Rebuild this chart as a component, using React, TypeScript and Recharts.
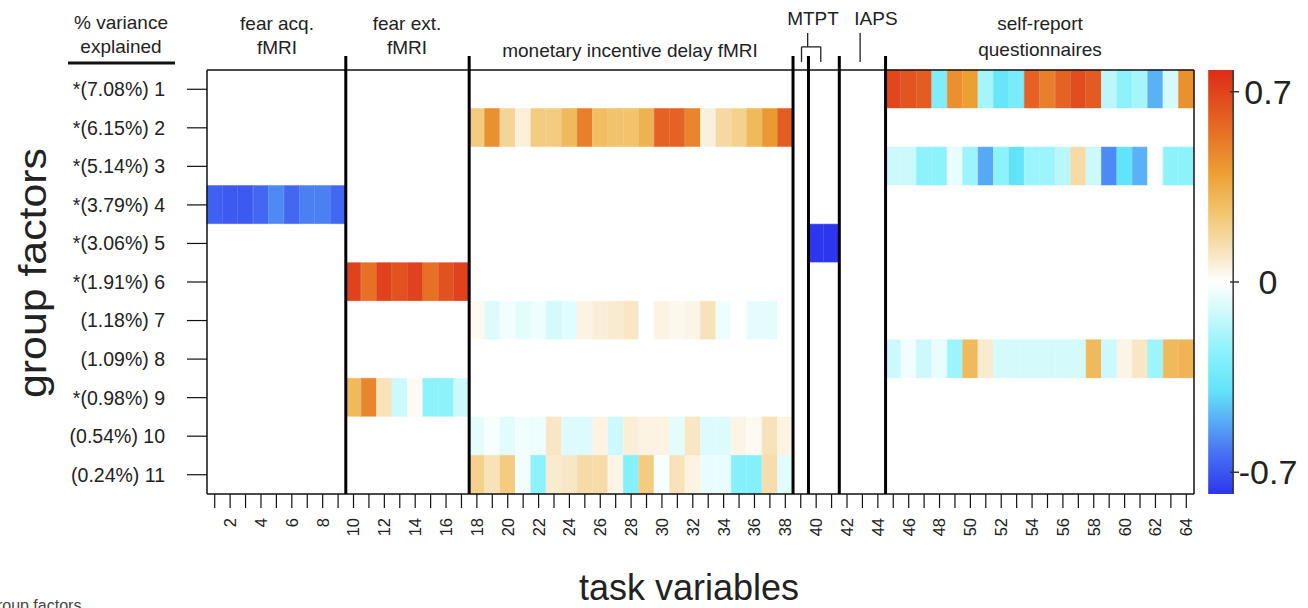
import React from 'react'
import { ComposedChart, Bar, Line, Cell, XAxis, YAxis, ReferenceLine, ReferenceArea } from 'recharts'

// task variables 1..64 and the 11 group factors
const taskVariables = [
  1, 2, 3, 4, 5, 6, 7, 8, 9, 10, 11, 12, 13, 14, 15, 16, 17, 18, 19, 20, 21, 22,
  23, 24, 25, 26, 27, 28, 29, 30, 31, 32, 33, 34, 35, 36, 37, 38, 39, 40, 41, 42,
  43, 44, 45, 46, 47, 48, 49, 50, 51, 52, 53, 54, 55, 56, 57, 58, 59, 60, 61, 62, 63, 64,
]
const factorLabels = [
  '*(7.08%) 1', '*(6.15%) 2', '*(5.14%) 3', '*(3.79%) 4', '*(3.06%) 5', '*(1.91%) 6',
  '(1.18%) 7', '(1.09%) 8', '*(0.98%) 9', '(0.54%) 10', '(0.24%) 11',
]
const factorTicks = [0.5, 1.5, 2.5, 3.5, 4.5, 5.5, 6.5, 7.5, 8.5, 9.5, 10.5]

// first column of each task block
const blockStart = { fearAcq: 1, fearExt: 10, mid: 18, mtpt: 39, iaps: 42, selfReport: 45 }

// loadings, read per factor for the block where they are non zero
const factor1SelfReport = [0.7, 0.65, 0.62, -0.3, 0.45, 0.4, -0.2, -0.38, -0.32, 0.6, 0.5, 0.6, 0.68, 0.63, -0.15, -0.25, -0.2, -0.5, -0.1, 0.45]
const factor2Mid = [0.22, 0.45, 0.18, 0.06, 0.22, 0.22, 0.3, 0.5, 0.28, 0.26, 0.26, 0.33, 0.6, 0.6, 0.48, 0.06, 0.16, 0.2, 0.3, 0.42, 0.62]
const factor3SelfReport = [-0.12, -0.12, -0.25, -0.25, -0.05, -0.22, -0.52, -0.25, -0.4, -0.22, -0.22, -0.16, 0.15, -0.12, -0.58, -0.4, -0.5, 0, -0.25, -0.25]
const factor4FearAcq = [-0.68, -0.7, -0.7, -0.66, -0.58, -0.66, -0.6, -0.6, -0.66]
const factor5Mtpt = [0, -0.8, -0.8]
const factor6FearExt = [0.72, 0.55, 0.72, 0.66, 0.72, 0.55, 0.66, 0.72]
const factor7Mid = [0.02, -0.08, -0.03, -0.06, -0.04, -0.1, -0.07, 0.05, 0.07, 0.08, 0.1, 0, 0.05, 0.03, 0.04, 0.12, -0.04, 0, -0.06, -0.06, 0]
const factor8SelfReport = [-0.12, -0.03, -0.12, -0.05, -0.22, 0.3, 0.08, -0.1, -0.1, -0.1, -0.1, -0.1, -0.1, 0.3, -0.12, 0.04, 0.1, -0.22, 0.3, 0.32]
const factor9FearExt = [0.3, 0.48, 0.12, -0.12, 0.02, -0.25, -0.25, -0.12]
const factor10Mid = [-0.06, -0.02, -0.07, -0.03, -0.04, 0.1, -0.08, -0.08, 0.05, -0.12, 0.07, 0.05, 0.05, -0.06, 0.1, -0.08, -0.08, 0.04, 0.02, 0.12, 0.05]
const factor11Mid = [0.2, 0.12, 0.22, -0.03, -0.25, 0.08, 0.1, 0.15, 0.15, 0.04, -0.28, 0.22, -0.02, 0.12, 0.05, -0.05, -0.05, -0.28, -0.28, 0.14, -0.07]

const factorBlocks: [number, number[]][] = [
  [blockStart.selfReport, factor1SelfReport],
  [blockStart.mid, factor2Mid],
  [blockStart.selfReport, factor3SelfReport],
  [blockStart.fearAcq, factor4FearAcq],
  [blockStart.mtpt, factor5Mtpt],
  [blockStart.fearExt, factor6FearExt],
  [blockStart.mid, factor7Mid],
  [blockStart.selfReport, factor8SelfReport],
  [blockStart.fearExt, factor9FearExt],
  [blockStart.mid, factor10Mid],
  [blockStart.mid, factor11Mid],
]

const colorbarTicks = [-0.7, 0, 0.7]
const colorbarMax = 0.78

const colorStops: [number, number[]][] = [
  [-0.8, [44, 54, 238]],
  [-0.62, [72, 118, 242]],
  [-0.5, [90, 178, 246]],
  [-0.4, [98, 228, 248]],
  [-0.25, [142, 242, 252]],
  [-0.1, [212, 250, 252]],
  [0, [255, 255, 255]],
  [0.1, [248, 230, 196]],
  [0.25, [242, 198, 112]],
  [0.4, [236, 160, 52]],
  [0.55, [230, 112, 38]],
  [0.8, [220, 44, 24]],
]

function loadingColor(v: number) {
  if (v <= colorStops[0][0]) return `rgb(${colorStops[0][1].join(',')})`
  for (let i = 1; i < colorStops.length; i++) {
    const [v1, c1] = colorStops[i]
    const [v0, c0] = colorStops[i - 1]
    if (v <= v1) {
      const t = (v - v0) / (v1 - v0)
      const c = c0.map((a, k) => Math.round(a + (c1[k] - a) * t))
      return `rgb(${c.join(',')})`
    }
  }
  return `rgb(${colorStops[colorStops.length - 1][1].join(',')})`
}

const loadings = factorBlocks.map(([start, vals]) =>
  taskVariables.map((c) => {
    const i = c - start
    return i >= 0 && i < vals.length ? vals[i] : 0
  })
)

const data = taskVariables.map((c) => {
  const row: Record<string, number> = { col: c, cb: 0 }
  factorLabels.forEach((_, f) => { row[`f${f}`] = 1 })
  return row
})

const separators = [9.5, 17.5, 38.5, 39.5, 41.5, 44.5]
// colour bar sits right of the heatmap, in task-variable units
const cbarLeft = 65.42
const cbarRight = 67.04

const XTick = (props: any) => {
  const { x, y, payload } = props
  if (payload.value % 2 !== 0) return null
  return (
    <g transform={`translate(${x},${y})`}>
      <text transform="rotate(-90)" textAnchor="end" dy="0.36em" fontSize={16.5} fill="#222">
        {payload.value}
      </text>
    </g>
  )
}

const CbarTick = (props: any) => {
  const { x, y, payload } = props
  return (
    <g>
      <line x1={x + 36} x2={x + 45} y1={y} y2={y} stroke="#333" strokeWidth={1.5} />
      <text x={x + 74} y={y} dy="0.36em" textAnchor="middle" fontSize={34} fill="#222">
        {payload.value}
      </text>
    </g>
  )
}

export default function App() {
  const txt = { fontSize: 19, fill: '#222', textAnchor: 'middle' as const }
  const bracket = { xAxisId: 'n', ifOverflow: 'visible' as const, stroke: '#222', strokeWidth: 1.3 }
  return (
    <div style={{ position: 'absolute', left: 0, top: 0, width: 1308, height: 608, background: '#fff', fontFamily: '"Liberation Sans", Arial, sans-serif', overflow: 'hidden' }}>
      <svg width={0} height={0} style={{ position: 'absolute' }}>
        <defs>
          <linearGradient id="cbar" x1="0" y1="0" x2="0" y2="1">
            {[...colorStops].reverse().map(([v]) => (
              <stop key={v} offset={`${Math.min(100, Math.max(0, ((colorbarMax - v) / (2 * colorbarMax)) * 100))}%`} stopColor={loadingColor(v)} />
            ))}
          </linearGradient>
        </defs>
      </svg>
      <div style={{ position: 'absolute', left: 0, top: 0 }}>
        <ComposedChart width={1308} height={608} data={data} margin={{ top: 70, right: 0, bottom: 0, left: 0 }} barCategoryGap={0} barGap={0}>
          <XAxis dataKey="col" type="category" interval={0} height={114} tickSize={14} tickMargin={10} axisLine={false}
            tickLine={{ stroke: '#111', strokeWidth: 1.2 }} tick={<XTick />} />
          <XAxis xAxisId="n" dataKey="col" type="number" domain={[0.5, 64.5]} hide allowDataOverflow />
          <YAxis type="number" domain={[0, 11]} reversed width={207} ticks={factorTicks}
            tickFormatter={(v: number) => factorLabels[Math.floor(v)]} tickSize={20} tickMargin={22}
            axisLine={{ stroke: '#111', strokeWidth: 1.5 }} tickLine={{ stroke: '#111', strokeWidth: 1.2 }}
            tick={{ fontSize: 19.5, fill: '#222' }} interval={0} />
          <YAxis yAxisId="cb" type="number" orientation="right" domain={[-colorbarMax, colorbarMax]} ticks={colorbarTicks}
            width={114} axisLine={false} tickLine={false} tickSize={0} tickMargin={0} tick={<CbarTick />} interval={0} />
          {factorLabels.map((_, f) => (
            <Bar key={f} dataKey={`f${f}`} stackId="a" isAnimationActive={false}>
              {taskVariables.map((c, i) => {
                const col = loadingColor(loadings[f][i])
                return <Cell key={c} fill={col} stroke={col} strokeWidth={0.6} />
              })}
            </Bar>
          ))}
          <Line yAxisId="cb" dataKey="cb" stroke="none" dot={false} activeDot={false} isAnimationActive={false} legendType="none" />
          <ReferenceArea xAxisId="n" yAxisId="cb" x1={cbarLeft} x2={cbarRight} y1={-colorbarMax} y2={colorbarMax}
            fill="url(#cbar)" fillOpacity={1} stroke="none" ifOverflow="visible" />
          <ReferenceLine xAxisId="n" yAxisId="cb" ifOverflow="visible" stroke="#333" strokeWidth={1.5}
            segment={[{ x: cbarRight, y: -colorbarMax }, { x: cbarRight, y: colorbarMax }]} />
          <ReferenceLine xAxisId="n" y={0} stroke="#111" strokeWidth={1.5} />
          <ReferenceLine xAxisId="n" y={11} stroke="#111" strokeWidth={1.5} />
          <ReferenceLine xAxisId="n" x={64.5} stroke="#111" strokeWidth={1.5} />
          {separators.map((s) => (
            <ReferenceLine key={s} xAxisId="n" ifOverflow="visible" stroke="#000" strokeWidth={3}
              segment={[{ x: s, y: -0.36 }, { x: s, y: 11 }]} />
          ))}
          <ReferenceLine {...bracket} segment={[{ x: 39.05, y: -0.6 }, { x: 40.3, y: -0.6 }]} />
          <ReferenceLine {...bracket} segment={[{ x: 39.05, y: -0.6 }, { x: 39.05, y: -0.21 }]} />
          <ReferenceLine {...bracket} segment={[{ x: 40.3, y: -0.6 }, { x: 40.3, y: -0.21 }]} />
          <ReferenceLine {...bracket} segment={[{ x: 39.45, y: -0.96 }, { x: 39.45, y: -0.6 }]} />
          <ReferenceLine {...bracket} segment={[{ x: 42.85, y: -0.96 }, { x: 42.85, y: -0.21 }]} />
        </ComposedChart>
      </div>
      <svg width={1308} height={608} style={{ position: 'absolute', left: 0, top: 0, pointerEvents: 'none' }}>
        <text x={121} y={29} {...txt}>% variance</text>
        <text x={121} y={53} {...txt}>explained</text>
        <line x1={68} x2={175} y1={63} y2={63} stroke="#111" strokeWidth={3} />
        <text x={277} y={30} {...txt}>fear acq.</text>
        <text x={277} y={54} {...txt}>fMRI</text>
        <text x={407} y={30} {...txt}>fear ext.</text>
        <text x={407} y={54} {...txt}>fMRI</text>
        <text x={630} y={57} {...txt}>monetary incentive delay fMRI</text>
        <text x={813} y={25} {...txt}>MTPT</text>
        <text x={876} y={25} {...txt}>IAPS</text>
        <text x={1040} y={30} {...txt}>self-report</text>
        <text x={1040} y={56} {...txt}>questionnaires</text>
        <text transform="translate(46,273) rotate(-90)" textAnchor="middle" fontSize={38} fill="#222"
          textLength={250} lengthAdjust="spacingAndGlyphs">group factors</text>
        <text x={689} y={600} textAnchor="middle" fontSize={36} fill="#222">task variables</text>
        <text x={-12} y={611} fontSize={16} fill="#444">group factors</text>
      </svg>
    </div>
  )
}
